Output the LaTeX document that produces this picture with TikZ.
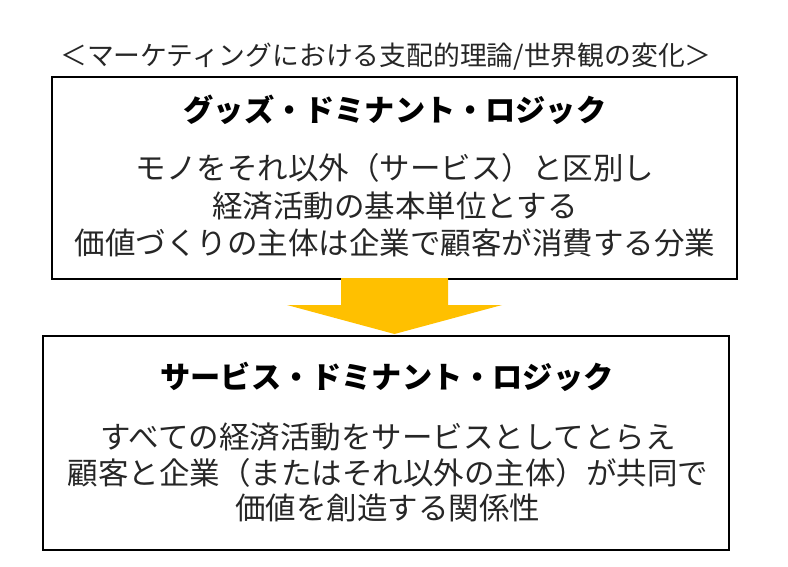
\documentclass[tikz,border=0pt]{standalone}
\usepackage{fontspec}
\setmainfont{Noto Sans CJK JP}
\usetikzlibrary{positioning}
\definecolor{framecolor}{RGB}{0, 0, 0}
\definecolor{arrowyellow}{RGB}{255, 192, 0}
\definecolor{labelcolor}{RGB}{38, 38, 38}
\tikzset{
logicbox/.style={
  draw=framecolor,
  line width=1.5pt,
  inner sep=0pt
},
headtext/.style={
  font=\fontsize{30.2}{34}\selectfont\bfseries,
  text=black,
  align=center
},
bodytext/.style={
  align=center,
  text=labelcolor
},
titletext/.style={
  font=\fontsize{26.8}{30}\selectfont,
  text=labelcolor
}
}
\begin{document}
\begin{tikzpicture}[x=1pt, y=-1pt]
  \useasboundingbox (0,0) rectangle (788,566);
  % caption
  \node[titletext] (title) at (386,57) {＜マーケティングにおける支配的理論/世界観の変化＞};
  % goods-dominant logic
  \node[logicbox, minimum width=685pt, minimum height=202pt] (gdl) at (394.5,178) {};
  \node[headtext] (gdlhead) at (395,110) {グッズ・ドミナント・ロジック};
  \node[bodytext, font=\fontsize{30.5}{37.5}\selectfont] (gdlbody) at (395,205.5)
    {モノをそれ以外（サービス）と区別し\\経済活動の基本単位とする\\価値づくりの主体は企業で顧客が消費する分業};
  % service-dominant logic
  \node[logicbox, minimum width=686pt, minimum height=214pt] (sdl) at (386,443) {};
  \node[headtext] (sdlhead) at (387,377) {サービス・ドミナント・ロジック};
  \node[bodytext, font=\fontsize{30.5}{35.5}\selectfont] (sdlbody) at (388,472.5)
    {すべての経済活動をサービスとしてとらえ\\顧客と企業（またはそれ以外の主体）が共同で\\価値を創造する関係性};
  % shift arrow
  \coordinate (tip) at (394.5,334);
  \fill[arrowyellow] (341,278) -- (448,278) -- (448,305) -- (502,305)
    -- (tip) -- (287,305) -- (341,305) -- cycle;
\end{tikzpicture}
\end{document}
